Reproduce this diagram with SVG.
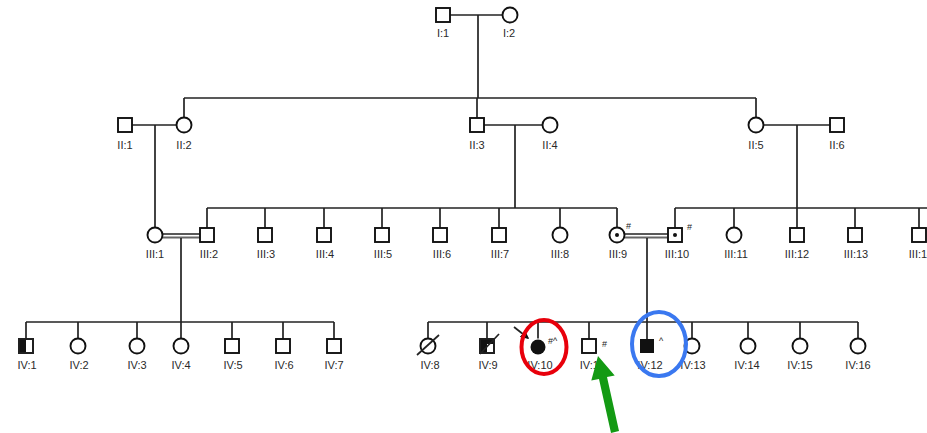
<svg xmlns="http://www.w3.org/2000/svg" width="927" height="433" viewBox="0 0 927 433">
  <defs>
    <style>
      .ln { stroke: #222; stroke-width: 1.7; fill: none; }
      .sq { fill: #fff; stroke: #111; stroke-width: 1.9; }
      .ci { fill: #fff; stroke: #111; stroke-width: 1.9; }
      .af { fill: #111; }
      .lb { font-family: "Liberation Sans", Arial, sans-serif; font-size: 11px; fill: #2a2a2a; text-anchor: middle; }
      .sup { font-family: "Liberation Sans", Arial, sans-serif; font-size: 9px; fill: #222; }
      .dbl { stroke: #666; stroke-width: 1.8; fill: none; }
    </style>
    <marker id="pb" viewBox="0 0 6 6" refX="5" refY="3" markerWidth="5" markerHeight="5" orient="auto">
      <path d="M0,0 L6,3 L0,6 z" fill="#111"/>
    </marker>
  </defs>
  <rect width="927" height="433" fill="#fff"/>

  <!-- connectors -->
  <g id="connectors">
    <!-- generation I -->
    <line class="ln" x1="450" y1="15" x2="502.5" y2="15"/>
    <line class="ln" x1="478" y1="15" x2="478" y2="98"/>
    <line class="ln" x1="184" y1="98" x2="756" y2="98"/>
    <line class="ln" x1="184" y1="98" x2="184" y2="117.5"/>
    <line class="ln" x1="477" y1="98" x2="477" y2="118"/>
    <line class="ln" x1="756" y1="98" x2="756" y2="117.5"/>
    <!-- generation II couples -->
    <line class="ln" x1="132" y1="125" x2="176.5" y2="125"/>
    <line class="ln" x1="155" y1="125" x2="155" y2="227.5"/>
    <line class="ln" x1="484" y1="125" x2="542.5" y2="125"/>
    <line class="ln" x1="515" y1="125" x2="515" y2="208"/>
    <line class="ln" x1="763.5" y1="125" x2="830" y2="125"/>
    <line class="ln" x1="797" y1="125" x2="797" y2="208"/>
    <!-- generation III sibships -->
    <line class="ln" x1="207" y1="208" x2="617" y2="208"/>
    <line class="ln" x1="207" y1="208" x2="207" y2="228"/>
    <line class="ln" x1="265" y1="208" x2="265" y2="228"/>
    <line class="ln" x1="324" y1="208" x2="324" y2="228"/>
    <line class="ln" x1="382" y1="208" x2="382" y2="228"/>
    <line class="ln" x1="440" y1="208" x2="440" y2="228"/>
    <line class="ln" x1="499" y1="208" x2="499" y2="228"/>
    <line class="ln" x1="560" y1="208" x2="560" y2="227.5"/>
    <line class="ln" x1="617" y1="208" x2="617" y2="227.5"/>
    <line class="ln" x1="675" y1="208" x2="927" y2="208"/>
    <line class="ln" x1="675" y1="208" x2="675" y2="228"/>
    <line class="ln" x1="734" y1="208" x2="734" y2="227.5"/>
    <line class="ln" x1="855" y1="208" x2="855" y2="228"/>
    <line class="ln" x1="919" y1="208" x2="919" y2="228"/>
    <line class="ln" x1="797" y1="208" x2="797" y2="228"/>
    <!-- consanguineous unions -->
    <line class="ln" x1="162.5" y1="234" x2="200" y2="234"/>
    <line class="dbl" x1="162.5" y1="237.5" x2="200" y2="237.5"/>
    <line class="ln" x1="624.5" y1="234" x2="668" y2="234"/>
    <line class="dbl" x1="624.5" y1="237.5" x2="668" y2="237.5"/>
    <line class="ln" x1="181" y1="238" x2="181" y2="338.5"/>
    <line class="ln" x1="647" y1="238" x2="647" y2="339"/>
    <!-- generation IV sibships -->
    <line class="ln" x1="26" y1="322" x2="334" y2="322"/>
    <line class="ln" x1="26" y1="322" x2="26" y2="339"/>
    <line class="ln" x1="78" y1="322" x2="78" y2="338.5"/>
    <line class="ln" x1="137" y1="322" x2="137" y2="338.5"/>
    <line class="ln" x1="232" y1="322" x2="232" y2="339"/>
    <line class="ln" x1="283" y1="322" x2="283" y2="339"/>
    <line class="ln" x1="334" y1="322" x2="334" y2="339"/>
    <line class="ln" x1="428" y1="322" x2="858" y2="322"/>
    <line class="ln" x1="428" y1="322" x2="428" y2="338.5"/>
    <line class="ln" x1="487" y1="322" x2="487" y2="339"/>
    <line class="ln" x1="538" y1="322" x2="538" y2="338.5"/>
    <line class="ln" x1="589" y1="322" x2="589" y2="339"/>
    <line class="ln" x1="692" y1="322" x2="692" y2="338.5"/>
    <line class="ln" x1="748" y1="322" x2="748" y2="338.5"/>
    <line class="ln" x1="800" y1="322" x2="800" y2="338.5"/>
    <line class="ln" x1="858" y1="322" x2="858" y2="338.5"/>
  </g>

  <!-- generation I -->
  <g id="I-1"><rect class="sq" x="436" y="8" width="14" height="14"/><text class="lb" x="443" y="37">I:1</text></g>
  <g id="I-2"><circle class="ci" cx="510" cy="15" r="7.5"/><text class="lb" x="509" y="37">I:2</text></g>

  <!-- generation II -->
  <g id="II-1"><rect class="sq" x="118" y="118" width="14" height="14"/><text class="lb" x="125" y="149">II:1</text></g>
  <g id="II-2"><circle class="ci" cx="184" cy="125" r="7.5"/><text class="lb" x="184" y="149">II:2</text></g>
  <g id="II-3"><rect class="sq" x="470" y="118" width="14" height="14"/><text class="lb" x="477" y="149">II:3</text></g>
  <g id="II-4"><circle class="ci" cx="550" cy="125" r="7.5"/><text class="lb" x="550" y="149">II:4</text></g>
  <g id="II-5"><circle class="ci" cx="756" cy="125" r="7.5"/><text class="lb" x="756" y="149">II:5</text></g>
  <g id="II-6"><rect class="sq" x="830" y="118" width="14" height="14"/><text class="lb" x="837" y="149">II:6</text></g>

  <!-- generation III -->
  <g id="III-1"><circle class="ci" cx="155" cy="235" r="7.5"/><text class="lb" x="155" y="258">III:1</text></g>
  <g id="III-2"><rect class="sq" x="200" y="228" width="14" height="14"/><text class="lb" x="209" y="258">III:2</text></g>
  <g id="III-3"><rect class="sq" x="258" y="228" width="14" height="14"/><text class="lb" x="266" y="258">III:3</text></g>
  <g id="III-4"><rect class="sq" x="317" y="228" width="14" height="14"/><text class="lb" x="325" y="258">III:4</text></g>
  <g id="III-5"><rect class="sq" x="375" y="228" width="14" height="14"/><text class="lb" x="383" y="258">III:5</text></g>
  <g id="III-6"><rect class="sq" x="433" y="228" width="14" height="14"/><text class="lb" x="442" y="258">III:6</text></g>
  <g id="III-7"><rect class="sq" x="492" y="228" width="14" height="14"/><text class="lb" x="500" y="258">III:7</text></g>
  <g id="III-8"><circle class="ci" cx="560" cy="235" r="7.5"/><text class="lb" x="560" y="258">III:8</text></g>
  <g id="III-9"><circle class="ci" cx="617" cy="235" r="7.5"/><circle class="af" cx="617" cy="235" r="2"/><text class="sup" x="626" y="229">#</text><text class="lb" x="618" y="258">III:9</text></g>
  <g id="III-10"><rect class="sq" x="668" y="228" width="14" height="14"/><circle class="af" cx="675" cy="235" r="2"/><text class="sup" x="687" y="230">#</text><text class="lb" x="677" y="258">III:10</text></g>
  <g id="III-11"><circle class="ci" cx="734" cy="235" r="7.5"/><text class="lb" x="736" y="258">III:11</text></g>
  <g id="III-12"><rect class="sq" x="790" y="228" width="14" height="14"/><text class="lb" x="797" y="258">III:12</text></g>
  <g id="III-13"><rect class="sq" x="848" y="228" width="14" height="14"/><text class="lb" x="856" y="258">III:13</text></g>
  <g id="III-14"><rect class="sq" x="912" y="228" width="14" height="14"/><text class="lb" x="921" y="258">III:14</text></g>

  <!-- generation IV, left sibship -->
  <g id="IV-1"><rect class="sq" x="19" y="339" width="14" height="14"/><rect class="af" x="19" y="339" width="7" height="14"/><rect class="ln" x="19" y="339" width="14" height="14" stroke-width="1.9"/><text class="lb" x="27" y="369">IV:1</text></g>
  <g id="IV-2"><circle class="ci" cx="78" cy="346" r="7.5"/><text class="lb" x="79" y="369">IV:2</text></g>
  <g id="IV-3"><circle class="ci" cx="137" cy="346" r="7.5"/><text class="lb" x="137" y="369">IV:3</text></g>
  <g id="IV-4"><circle class="ci" cx="181" cy="346" r="7.5"/><text class="lb" x="181" y="369">IV:4</text></g>
  <g id="IV-5"><rect class="sq" x="225" y="339" width="14" height="14"/><text class="lb" x="233" y="369">IV:5</text></g>
  <g id="IV-6"><rect class="sq" x="276" y="339" width="14" height="14"/><text class="lb" x="284" y="369">IV:6</text></g>
  <g id="IV-7"><rect class="sq" x="327" y="339" width="14" height="14"/><text class="lb" x="334" y="369">IV:7</text></g>

  <!-- generation IV, right sibship -->
  <g id="IV-8"><circle class="ci" cx="428" cy="346" r="7.5"/><line class="ln" x1="417" y1="355" x2="439" y2="335"/><text class="lb" x="430" y="369">IV:8</text></g>
  <g id="IV-9"><rect class="sq" x="480" y="339" width="14" height="14"/><path class="af" d="M480,339 H494 V344 H487 V353 H480 Z"/><rect class="ln" x="480" y="339" width="14" height="14" stroke-width="1.9"/><line class="ln" x1="480" y1="354" x2="499" y2="334"/><text class="lb" x="488" y="369">IV:9</text></g>
  <g id="IV-10"><circle class="af" cx="538" cy="347" r="7.5"/><line class="ln" x1="514" y1="327" x2="528" y2="338" marker-end="url(#pb)"/><text class="sup" x="548" y="344">#^</text><text class="lb" x="540" y="369">IV:10</text></g>
  <g id="IV-11"><rect class="sq" x="582" y="339" width="14" height="14"/><text class="sup" x="602" y="347">#</text><text class="lb" x="592" y="369">IV:11</text></g>
  <g id="IV-12"><rect class="af" x="640" y="339" width="14" height="14"/><text class="sup" x="659" y="344">^</text><text class="lb" x="650" y="369">IV:12</text></g>
  <g id="IV-13"><circle class="ci" cx="692" cy="346" r="7.5"/><text class="lb" x="693" y="369">IV:13</text></g>
  <g id="IV-14"><circle class="ci" cx="748" cy="346" r="7.5"/><text class="lb" x="747" y="369">IV:14</text></g>
  <g id="IV-15"><circle class="ci" cx="800" cy="346" r="7.5"/><text class="lb" x="800" y="369">IV:15</text></g>
  <g id="IV-16"><circle class="ci" cx="858" cy="346" r="7.5"/><text class="lb" x="858" y="369">IV:16</text></g>

  <!-- highlight marks -->
  <g id="highlights">
    <ellipse cx="544" cy="347" rx="22.5" ry="27" fill="none" stroke="#e8000b" stroke-width="4"/>
    <ellipse cx="659" cy="344" rx="27" ry="32" fill="none" stroke="#3a78f0" stroke-width="4"/>
    <polygon points="598,356 614.7,375.4 607,377 619,431 611,433 599,379 591.3,380.6" fill="#139a13"/>
  </g>
</svg>
